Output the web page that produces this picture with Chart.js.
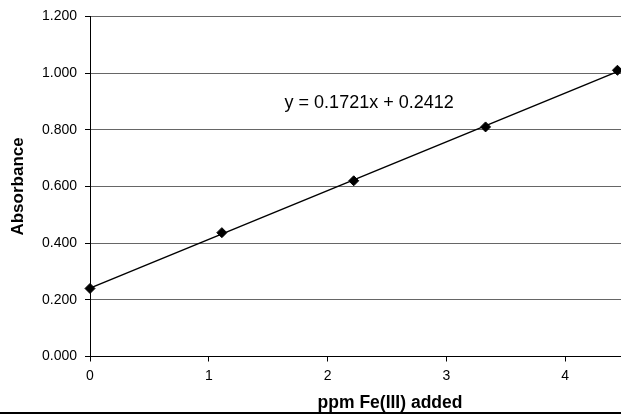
<!DOCTYPE html>
<html>
<head>
<meta charset="utf-8">
<script src="https://cdn.jsdelivr.net/npm/chart.js@4.4.0/dist/chart.umd.min.js"></script>
<style>body{margin:0;background:#fff}</style>
</head>
<body>
<canvas id="grafico" width="621" height="415"></canvas>
<script>
var ppmFe = [0, 1.11, 2.22, 3.33, 4.44];
var absorbance = [0.240, 0.437, 0.620, 0.810, 1.010];
var xTicks = [0, 1, 2, 3, 4];
var slope = 0.1721;
var intercept = 0.2412;
var equation = 'y = ' + slope + 'x + ' + intercept;

var font = '"Liberation Sans", Arial, sans-serif';

var points = ppmFe.map((x, i) => ({x: x, y: absorbance[i]}));
// trendline over the data range, from the fitted equation
var xFirst = ppmFe[0], xLast = ppmFe[ppmFe.length - 1];
var trend = [
    {x: xFirst, y: slope * xFirst + intercept},
    {x: xLast, y: slope * xLast + intercept}
];

var extras = {
    id: 'extras',
    afterDraw(chart) {
        var ctx = chart.ctx, a = chart.chartArea;
        var sx = chart.scales.x, sy = chart.scales.y;
        ctx.save();
        ctx.fillStyle = '#000';
        ctx.textAlign = 'center';
        ctx.textBaseline = 'middle';
        ctx.font = '18px ' + font;
        ctx.fillText(equation, sx.getPixelForValue(2.35), sy.getPixelForValue(0.895));
        ctx.font = 'bold 17.5px ' + font;
        ctx.fillText('ppm Fe(III) added', a.left + (a.right - a.left) * 0.565, 403);
        ctx.fillRect(0, 412, chart.width, 2);
        ctx.restore();
    }
};

var myChart = new Chart(document.getElementById('grafico'), {
    type: 'scatter',
    data: {
        datasets: [{
            label: 'trend',
            type: 'line',
            data: trend,
            borderColor: '#000',
            borderWidth: 1.5,
            pointRadius: 0,
            clip: false
        }, {
            label: 'Absorbance',
            data: points,
            pointStyle: 'rectRot',
            pointRadius: 5,
            pointHoverRadius: 5,
            backgroundColor: '#000',
            borderColor: '#000',
            borderWidth: 1,
            clip: false
        }]
    },
    plugins: [extras],
    options: {
        responsive: false,
        animation: false,
        layout: {autoPadding: false, padding: {top: 14, right: 0, left: 0, bottom: 0}},
        plugins: {legend: {display: false}, tooltip: {enabled: false}},
        scales: {
            x: {
                type: 'linear',
                min: 0,
                max: 4.47,
                afterFit: s => { s.height = 58.5; },
                afterBuildTicks: s => { s.ticks = xTicks.map(v => ({value: v})); },
                border: {color: '#000', width: 1},
                grid: {drawOnChartArea: false, drawTicks: true, tickLength: 5, color: '#000', tickColor: '#000'},
                ticks: {color: '#000', font: {family: font, size: 14}, padding: 6}
            },
            y: {
                min: 0,
                max: 1.2,
                afterFit: s => { s.width = 90; },
                border: {color: '#000', width: 1},
                grid: {color: '#666', tickLength: 5, tickColor: '#000'},
                ticks: {
                    stepSize: 0.2,
                    color: '#000',
                    font: {family: font, size: 14},
                    padding: 8,
                    callback: v => v.toFixed(3)
                },
                title: {
                    display: true,
                    text: 'Absorbance',
                    color: '#000',
                    font: {family: font, size: 17, weight: 'bold'},
                    padding: {top: 8, bottom: 0}
                }
            }
        }
    }
});
</script>
</body>
</html>
